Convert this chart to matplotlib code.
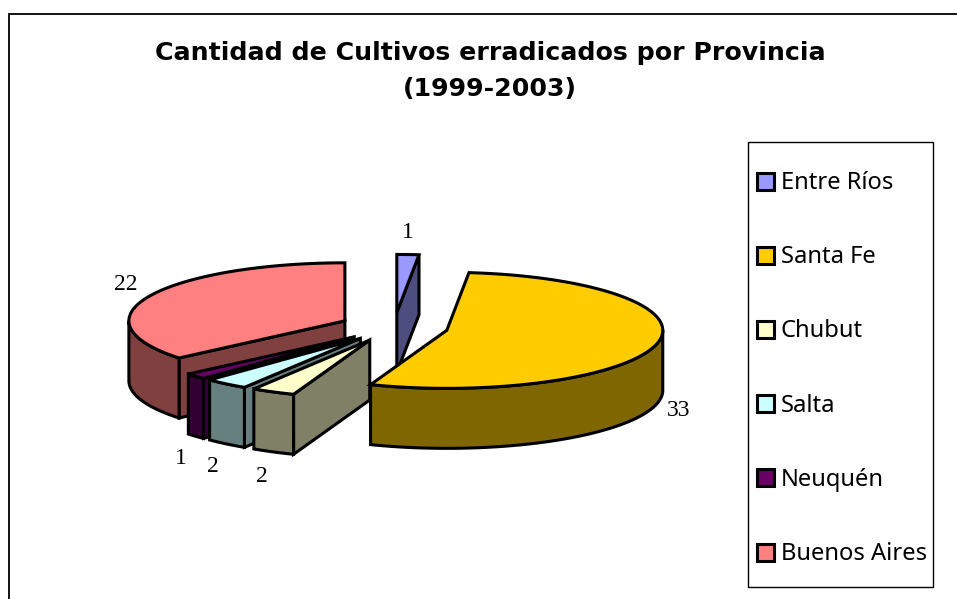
import matplotlib
matplotlib.use("Agg")
import matplotlib.pyplot as plt
from matplotlib.patches import Polygon, Rectangle
import numpy as np

provincias = ["Entre Ríos", "Santa Fe", "Chubut", "Salta", "Neuquén", "Buenos Aires"]
cultivos = [1, 33, 2, 2, 1, 22]
colores = ["#9999FF", "#FFCC00", "#FFFFCC", "#CCFFFF", "#660066", "#FF8080"]
costados = ["#4D4D80", "#806600", "#808066", "#668080", "#330033", "#804040"]
orden_dibujo = [5, 0, 4, 3, 2, 1]

titulo = "Cantidad de Cultivos erradicados por Provincia\n(1999-2003)"

# pie geometry, in pixels
cx, cy = 394, 327
rx, ry = 216, 58
prof = 60
explode = 0.251
lw = 2.2

# (x, y) of the data labels, one per slice
pos_etiquetas = [(408, 232), (679, 410), (262, 476), (213, 467), (181, 458), (126, 285)]


def punto(c, ang, r=1.0):
    return (c[0] + r * rx * np.sin(ang), c[1] - r * ry * np.cos(ang))


def bajar(puntos):
    return [(x, y + prof) for x, y in puntos]


def dibujar_porcion(ax, i, a0, a1):
    mid = (a0 + a1) / 2
    c = punto((cx, cy), mid, explode)
    p0 = punto(c, a0)
    p1 = punto(c, a1)
    sty = dict(edgecolor="black", linewidth=lw, joinstyle="miter", facecolor=costados[i])

    # radial walls, only the ones facing the viewer
    if np.sin(a0) < 0:
        ax.add_patch(Polygon([c, p0] + bajar([p0, c]), **sty))
    if np.sin(a1) > 0:
        ax.add_patch(Polygon([c, p1] + bajar([p1, c]), **sty))

    # outer wall, front half of the ellipse only
    b0, b1 = max(a0, np.pi / 2), min(a1, 3 * np.pi / 2)
    if b1 > b0:
        arco = [punto(c, t) for t in np.linspace(b0, b1, 100)]
        ax.add_patch(Polygon(arco + bajar(arco)[::-1], **sty))

    # top
    arco = [punto(c, t) for t in np.linspace(a0, a1, 200)]
    ax.add_patch(Polygon([c] + arco, edgecolor="black", linewidth=lw,
                         joinstyle="miter", facecolor=colores[i]))


fig = plt.figure(figsize=(9.57, 5.99), dpi=100)
ax = fig.add_axes([0, 0, 1, 1])
ax.set_xlim(0, 957)
ax.set_ylim(599, 0)
ax.axis("off")

# chart frame, runs off the right and bottom of the picture
ax.plot([9, 9, 957], [599, 14, 14], color="black", lw=1.3, solid_joinstyle="miter")

fracs = np.array(cultivos) / sum(cultivos) * 2 * np.pi
bordes = np.concatenate([[0], np.cumsum(fracs)])
for i in orden_dibujo:
    dibujar_porcion(ax, i, bordes[i], bordes[i + 1])

for v, (x, y) in zip(cultivos, pos_etiquetas):
    ax.text(x, y, str(v), family="Liberation Serif", fontsize=17,
            ha="center", va="center", color="black")

lineas = titulo.split("\n")
ax.text(490, 53, lineas[0], family="DejaVu Sans", fontweight="bold", fontsize=18.2,
        ha="center", va="center", color="black")
ax.text(490, 89, lineas[1], family="DejaVu Sans", fontweight="bold", fontsize=18.2,
        ha="center", va="center", color="black")

# legend
ax.add_patch(Rectangle((748, 142), 185, 445, facecolor="white", edgecolor="black", lw=1))
for i, nombre in enumerate(provincias):
    y = 181 + i * 74.2
    ax.add_patch(Rectangle((757, y - 8.5), 17, 17, facecolor=colores[i],
                           edgecolor="black", lw=2.2))
    ax.text(781, y + 2, nombre, family="Noto Sans", fontsize=17.1, ha="left", va="center",
            color="black")

fig.savefig("out.png", dpi=100)
